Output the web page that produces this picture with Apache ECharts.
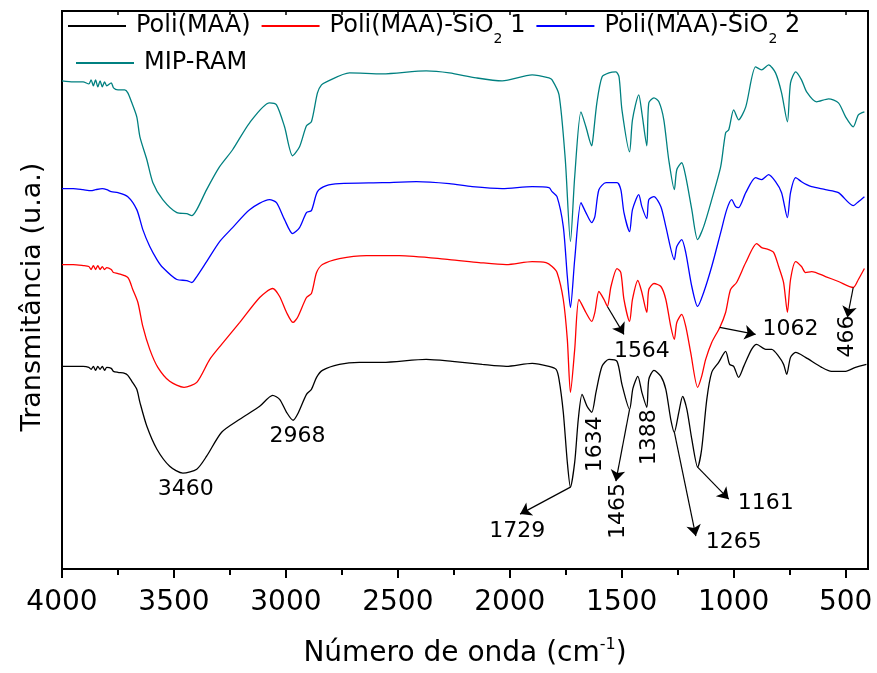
<!DOCTYPE html>
<html><head><meta charset="utf-8">
<script src="https://cdn.jsdelivr.net/npm/echarts@6/dist/echarts.min.js"></script>
<style>html,body{margin:0;padding:0;background:#fff}#c{width:877px;height:673px}</style>
</head><body><div id="c"></div>
<script>
// ---- data ----
const seriesNames = ['Poli(MAA)', 'Poli(MAA)-SiO2 1', 'Poli(MAA)-SiO2 2', 'MIP-RAM'];
const majorTicks = [4000, 3500, 3000, 2500, 2000, 1500, 1000, 500];
const minorTicks = [3750, 3250, 2750, 2250, 1750, 1250, 750];

const poliMAA = [[4000,203],[3950,203],[3906,203],[3880,202],[3870,200],[3860,203],[3850,199],[3840,203],[3830,200],[3820,203],[3810,199],[3800,202],[3780,201],[3770,198],[3750,197],[3720,196],[3706,194],[3688,188],[3666,180],[3652,167],[3621,143],[3576,120],[3519,103],[3460,96],[3398,100],[3354,113],[3287,137],[3206,150],[3117,163],[3059,174],[3028,170],[2997,157],[2968,149],[2948,155],[2908,175],[2886,180],[2863,192],[2837,199],[2761,205],[2672,207],[2569,207],[2373,210],[2257,208],[2123,205],[2016,203],[1900,206],[1825,203],[1793,200],[1780,190],[1761,157],[1743,107],[1729,82],[1710,107],[1694,150],[1677,175],[1655,163],[1634,157],[1615,177],[1588,203],[1557,210],[1521,208],[1499,185],[1465,160],[1450,181],[1428,193],[1410,177],[1388,162],[1379,190],[1356,199],[1325,193],[1303,180],[1281,150],[1265,137],[1245,157],[1228,173],[1209,160],[1187,130],[1161,102],[1143,120],[1120,170],[1098,197],[1067,207],[1036,218],[1018,205],[1000,203],[978,192],[955,203],[920,220],[897,225],[857,220],[830,220],[799,213],[777,205],[763,195],[746,212],[723,217],[679,212],[607,202],[563,198],[500,198],[456,202],[407,205]];

const poliMAASiO2_1 = [[4000,305],[3950,305],[3906,304],[3880,303],[3870,300],[3860,304],[3850,300],[3840,304],[3830,300],[3820,303],[3810,300],[3800,302],[3780,300],[3770,297],[3750,296],[3706,292],[3684,280],[3661,267],[3639,243],[3608,220],[3572,202],[3519,188],[3455,182],[3398,187],[3340,210],[3287,225],[3206,247],[3117,272],[3059,281],[3028,273],[2997,257],[2968,247],[2948,252],[2908,272],[2886,276],[2863,297],[2837,305],[2761,311],[2640,314],[2493,314],[2270,310],[2137,307],[2016,305],[1900,308],[1838,307],[1811,303],[1789,297],[1761,270],[1743,230],[1729,177],[1710,220],[1691,270],[1660,257],[1634,248],[1620,257],[1602,278],[1579,270],[1564,263],[1548,283],[1521,301],[1504,297],[1490,270],[1465,248],[1452,270],[1428,289],[1410,277],[1388,257],[1379,280],[1356,286],[1325,283],[1303,270],[1281,243],[1265,230],[1254,247],[1232,255],[1214,243],[1192,217],[1161,182],[1143,193],[1125,210],[1098,227],[1062,242],[1036,257],[1014,280],[987,287],[946,307],[897,326],[875,322],[844,320],[821,317],[799,303],[777,287],[760,257],[746,290],[723,308],[697,303],[679,297],[652,298],[590,293],[532,288],[466,282],[443,290],[416,301]];

const poliMAASiO2_2 = [[4000,381],[3950,381],[3906,380],[3870,379],[3850,380],[3820,381],[3800,380],[3780,378],[3750,377],[3706,373],[3666,360],[3639,340],[3608,323],[3576,310],[3550,302],[3487,290],[3443,289],[3420,287],[3398,293],[3354,308],[3296,328],[3238,342],[3162,360],[3073,370],[3042,367],[3006,350],[2970,336],[2939,342],[2908,357],[2886,359],[2859,378],[2819,384],[2761,386],[2569,387],[2417,388],[2270,386],[2168,383],[2034,381],[1900,383],[1825,382],[1811,378],[1789,373],[1761,343],[1743,293],[1729,262],[1710,310],[1682,367],[1660,357],[1634,347],[1620,353],[1602,380],[1570,387],[1521,387],[1504,380],[1490,357],[1465,338],[1452,360],[1424,375],[1410,363],[1388,351],[1379,370],[1356,373],[1325,363],[1303,343],[1265,310],[1254,323],[1232,330],[1214,317],[1187,283],[1161,263],[1134,277],[1098,303],[1058,337],[1031,360],[1009,370],[991,363],[978,362],[946,377],[902,392],[875,390],[844,395],[813,388],[786,377],[760,352],[746,377],[723,392],[697,388],[674,385],[652,383],[590,380],[532,377],[466,364],[443,368],[416,373]];

const mipRAM = [[4000,489],[3950,488],[3906,488],[3880,486],[3870,490],[3860,484],[3850,490],[3840,483],[3830,489],[3820,483],[3810,488],[3800,484],[3780,487],[3770,482],[3750,480],[3720,480],[3706,477],[3688,467],[3666,453],[3652,433],[3621,410],[3594,387],[3550,370],[3487,357],[3443,356],[3420,354],[3398,360],[3354,380],[3296,403],[3238,420],[3162,447],[3073,467],[3042,465],[3006,443],[2970,414],[2939,423],[2908,444],[2886,448],[2859,477],[2841,485],[2819,488],[2716,497],[2569,496],[2373,499],[2270,497],[2150,492],[2034,489],[1900,495],[1825,492],[1811,490],[1780,475],[1752,410],[1729,328],[1710,393],[1682,458],[1660,443],[1634,424],[1628,432],[1611,467],[1588,493],[1557,497],[1526,498],[1512,493],[1499,460],[1465,418],[1452,450],[1424,475],[1410,457],[1388,424],[1379,467],[1356,472],[1334,468],[1312,450],[1290,410],[1265,380],[1254,400],[1232,407],[1214,393],[1187,360],[1161,330],[1134,343],[1098,370],[1058,403],[1036,437],[1022,440],[1000,460],[978,450],[946,463],[902,503],[875,500],[844,505],[813,497],[786,477],[760,448],[746,487],[723,498],[697,490],[674,478],[630,468],[576,471],[532,467],[500,453],[466,443],[443,455],[416,458]];

// peak annotations (data coordinates)
const annotTexts = ['3460','2968','1729','1634','1465','1388','1265','1161','1564','1062','466'];
const annotAt = [[3447,80],[2948,133],[1967,38],[1620,125],[1517,58],[1379,132],[1000,27],[857,66],[1410,218],[746,240],[492,233]];
const annotRotate = [0,0,0,90,90,90,0,0,0,0,90];
const arrowFrom = [[1729,82],[1465,160],[1265,137],[1161,102],[1564,263],[1062,242],[466,282]];
const arrowTo = [[1954,55],[1526,88],[1169,33],[1022,70],[1490,235],[902,235],[492,252]];

// ---- chart ----
const FONT = 'DejaVu Sans';
const colors = ['#000000', '#ff0000', '#0000ff', '#008080'];
const datasets = [poliMAA, poliMAASiO2_1, poliMAASiO2_2, mipRAM];

function legendFmt(name) {
  if (name.indexOf('SiO2') >= 0) {
    const p = name.split('SiO2');
    return '{n|' + p[0] + 'SiO}{s|2}{n|' + p[1] + '}';
  }
  return '{n|' + name + '}';
}
const legendText = {
  color: '#000', fontFamily: FONT, fontSize: 24, padding: [0, 0, 0, 5],
  rich: {
    n: { fontFamily: FONT, fontSize: 24, lineHeight: 40, color: '#000' },
    s: { fontFamily: FONT, fontSize: 14, lineHeight: 14, verticalAlign: 'bottom', color: '#000' }
  }
};

const series = datasets.map((d, i) => ({
  name: seriesNames[i],
  type: 'line',
  data: d,
  xAxisIndex: 0, yAxisIndex: 0,
  showSymbol: false, symbol: 'none',
  smooth: 0.25,
  lineStyle: { color: colors[i], width: 1.3 },
  itemStyle: { color: colors[i] },
  animation: false,
  z: 5 - i
}));

series[0].markLine = {
  silent: true, animation: false,
  symbol: ['none', 'arrow'], symbolSize: 11,
  label: { show: false },
  lineStyle: { color: '#000', width: 1.2, type: 'solid' },
  emphasis: { disabled: true },
  data: arrowFrom.map((f, i) => [{ coord: f }, { coord: arrowTo[i] }])
};
series[0].markPoint = {
  silent: true, animation: false,
  symbol: 'rect', symbolSize: 1,
  itemStyle: { color: 'rgba(0,0,0,0)' },
  data: annotTexts.map((t, i) => ({
    coord: annotAt[i], value: t,
    label: { show: true, position: 'inside', formatter: t, rotate: annotRotate[i],
             color: '#000', fontFamily: FONT, fontSize: 22 }
  }))
};

const legendCommon = {
  padding: [0, 5], orient: 'horizontal',
  itemWidth: 58, itemHeight: 14, itemGap: 10, formatter: legendFmt, textStyle: legendText,
  itemStyle: { opacity: 0 },
  selectedMode: false
};

const chart = echarts.init(document.getElementById('c'), null, { renderer: 'canvas' });
chart.setOption({
  backgroundColor: '#fff',
  animation: false,
  grid: [
    { left: 62, right: 9, top: 11, bottom: 103, show: true, borderColor: '#000', borderWidth: 2, backgroundColor: 'transparent' },
    { left: 62, right: 9, top: 11, bottom: 103 }
  ],
  legend: [
    Object.assign({ data: seriesNames.slice(0, 3), left: 62, top: 14 }, legendCommon),
    Object.assign({ data: seriesNames.slice(3), left: 70, top: 51 }, legendCommon)
  ],
  xAxis: [
    { type: 'value', gridIndex: 0, position: 'bottom', inverse: true, min: 400, max: 4000,
      axisLine: { show: false },
      axisTick: { show: true, inside: false, length: 9, lineStyle: { color: '#000', width: 2 }, customValues: majorTicks },
      axisLabel: { show: true, customValues: majorTicks, formatter: v => String(v), color: '#000', fontFamily: FONT, fontSize: 28, margin: 20 },
      splitLine: { show: false },
      name: '{t|Número de onda (cm}{p|-1}{t|)}', nameLocation: 'middle', nameGap: 68,
      nameTextStyle: { color: '#000', fontFamily: FONT, fontSize: 28,
        rich: { t: { fontFamily: FONT, fontSize: 28, lineHeight: 34, color: '#000' },
                p: { fontFamily: FONT, fontSize: 16, lineHeight: 16, verticalAlign: 'top', color: '#000' } } } },
    { type: 'value', gridIndex: 0, position: 'top', inverse: true, min: 400, max: 4000,
      axisLine: { show: false },
      axisTick: { show: true, inside: true, length: 4, lineStyle: { color: '#000', width: 1.5 }, customValues: majorTicks.concat(minorTicks) },
      axisLabel: { show: false }, splitLine: { show: false } },
    { type: 'value', gridIndex: 1, position: 'bottom', inverse: true, min: 400, max: 4000,
      axisLine: { show: false },
      axisTick: { show: true, inside: false, length: 5, lineStyle: { color: '#000', width: 2 }, customValues: minorTicks },
      axisLabel: { show: false }, splitLine: { show: false } }
  ],
  yAxis: [
    { type: 'value', gridIndex: 0, min: 0, max: 559,
      axisLine: { show: false }, axisTick: { show: false }, axisLabel: { show: false }, splitLine: { show: false },
      name: 'Transmitância (u.a.)', nameLocation: 'middle', nameGap: 16,
      nameTextStyle: { color: '#000', fontFamily: FONT, fontSize: 27, padding: [0, 14, 0, 0] } },
    { type: 'value', gridIndex: 1, min: 0, max: 559, show: false }
  ],
  series: series
});
</script>
</body></html>
